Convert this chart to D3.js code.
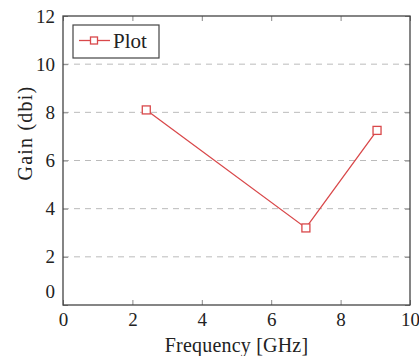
<!doctype html>
<meta charset="utf-8">
<title>Gain vs Frequency</title>
<style>
body { margin: 0; background: #fff; }
svg text { font-family: "Liberation Serif", serif; fill: #222; }
.grid line { stroke: #bbb; stroke-dasharray: 6 5; }
</style>
<script src="https://d3js.org/d3.v7.min.js"></script>
<body>
<script>
var freq = [2.4, 7, 9.05];
var gain = [8.1, 3.2, 7.25];
var xTicks = [0, 2, 4, 6, 8, 10];
var yTicks = [0, 2, 4, 6, 8, 10, 12];
var seriesName = "Plot";

var width = 419, height = 356;
var margin = {left: 63, top: 16, right: 9, bottom: 51};
var red = "#d9484a";
var font = "Liberation Serif";

var svg = d3.select("body").append("svg")
    .attr("width", width)
    .attr("height", height);

var x = d3.scaleLinear().domain([0, 10]).range([margin.left, width - margin.right]);
var y = d3.scaleLinear().domain([0, 12]).range([height - margin.bottom, margin.top]);

// dashed horizontal grid
svg.append("g").attr("class", "grid")
  .selectAll("line")
  .data(yTicks.filter(function(d) { return d > 0 && d < 12; }))
  .enter().append("line")
    .attr("x1", x(0)).attr("x2", x(10))
    .attr("y1", function(d) { return y(d); })
    .attr("y2", function(d) { return y(d); });

// axes with mirrored inner ticks
var tickCol = "#888";
function styleAxis(g) {
  g.attr("font-family", font);
  g.select(".domain").remove();
  g.selectAll("line").attr("stroke", tickCol);
  g.selectAll("text").style("font-size", "19px").attr("fill", "#222");
}
svg.append("g")
    .attr("transform", "translate(0," + y(0) + ")")
    .call(d3.axisBottom(x).tickValues(xTicks).tickSize(-5).tickPadding(8).tickFormat(d3.format("d")))
    .call(styleAxis);
svg.append("g")
    .attr("transform", "translate(0," + y(12) + ")")
    .call(d3.axisTop(x).tickValues(xTicks).tickSize(-5).tickFormat(""))
    .call(styleAxis);
svg.append("g")
    .attr("transform", "translate(" + x(0) + ",0)")
    .call(d3.axisLeft(y).tickValues(yTicks).tickSize(-5).tickPadding(8).tickFormat(d3.format("d")))
    .call(styleAxis)
    .call(function(g) {
      // the y "0" sits a little above the corner, clear of the x "0"
      g.selectAll(".tick text").filter(function(d) { return d === 0; }).attr("dy", "-0.4em");
    });
svg.append("g")
    .attr("transform", "translate(" + x(10) + ",0)")
    .call(d3.axisRight(y).tickValues(yTicks).tickSize(-5).tickFormat(""))
    .call(styleAxis);

// frame
svg.append("rect")
    .attr("x", x(0)).attr("y", y(12))
    .attr("width", x(10) - x(0)).attr("height", y(0) - y(12))
    .attr("fill", "none").attr("stroke", "#444").attr("stroke-width", 1.3);

// data
var pts = freq.map(function(f, i) { return [f, gain[i]]; });
svg.append("path")
    .datum(pts)
    .attr("fill", "none")
    .attr("stroke", red)
    .attr("stroke-width", 1.3)
    .attr("d", d3.line().x(function(d) { return x(d[0]); }).y(function(d) { return y(d[1]); }));
svg.selectAll("rect.pt")
    .data(pts)
  .enter().append("rect")
    .attr("class", "pt")
    .attr("x", function(d) { return x(d[0]) - 4; })
    .attr("y", function(d) { return y(d[1]) - 4; })
    .attr("width", 8).attr("height", 8)
    .attr("fill", "#fff").attr("stroke", red).attr("stroke-width", 1.3);

// legend
var lg = svg.append("g").attr("transform", "translate(73,25)");
lg.append("rect").attr("width", 86).attr("height", 33)
    .attr("fill", "#fff").attr("stroke", "#444").attr("stroke-width", 1.2);
lg.append("line").attr("x1", 6).attr("x2", 37).attr("y1", 15.5).attr("y2", 15.5)
    .attr("stroke", red).attr("stroke-width", 1.3);
lg.append("rect").attr("x", 17.5).attr("y", 12).attr("width", 7).attr("height", 7)
    .attr("fill", "#fff").attr("stroke", red).attr("stroke-width", 1.3);
lg.append("text").attr("x", 40).attr("y", 22.5).attr("font-family", font)
    .style("font-size", "21px").text(seriesName);

// axis titles
svg.append("text")
    .attr("x", (x(0) + x(10)) / 2).attr("y", 352)
    .attr("text-anchor", "middle").attr("font-family", font)
    .style("font-size", "20px").style("letter-spacing", "0.2px")
    .text("Frequency [GHz]");
svg.append("text")
    .attr("transform", "translate(32,133) rotate(-90)")
    .attr("text-anchor", "middle").attr("font-family", font)
    .style("font-size", "20px").style("letter-spacing", "1.2px")
    .text("Gain (dbi)");
</script>
</body>
